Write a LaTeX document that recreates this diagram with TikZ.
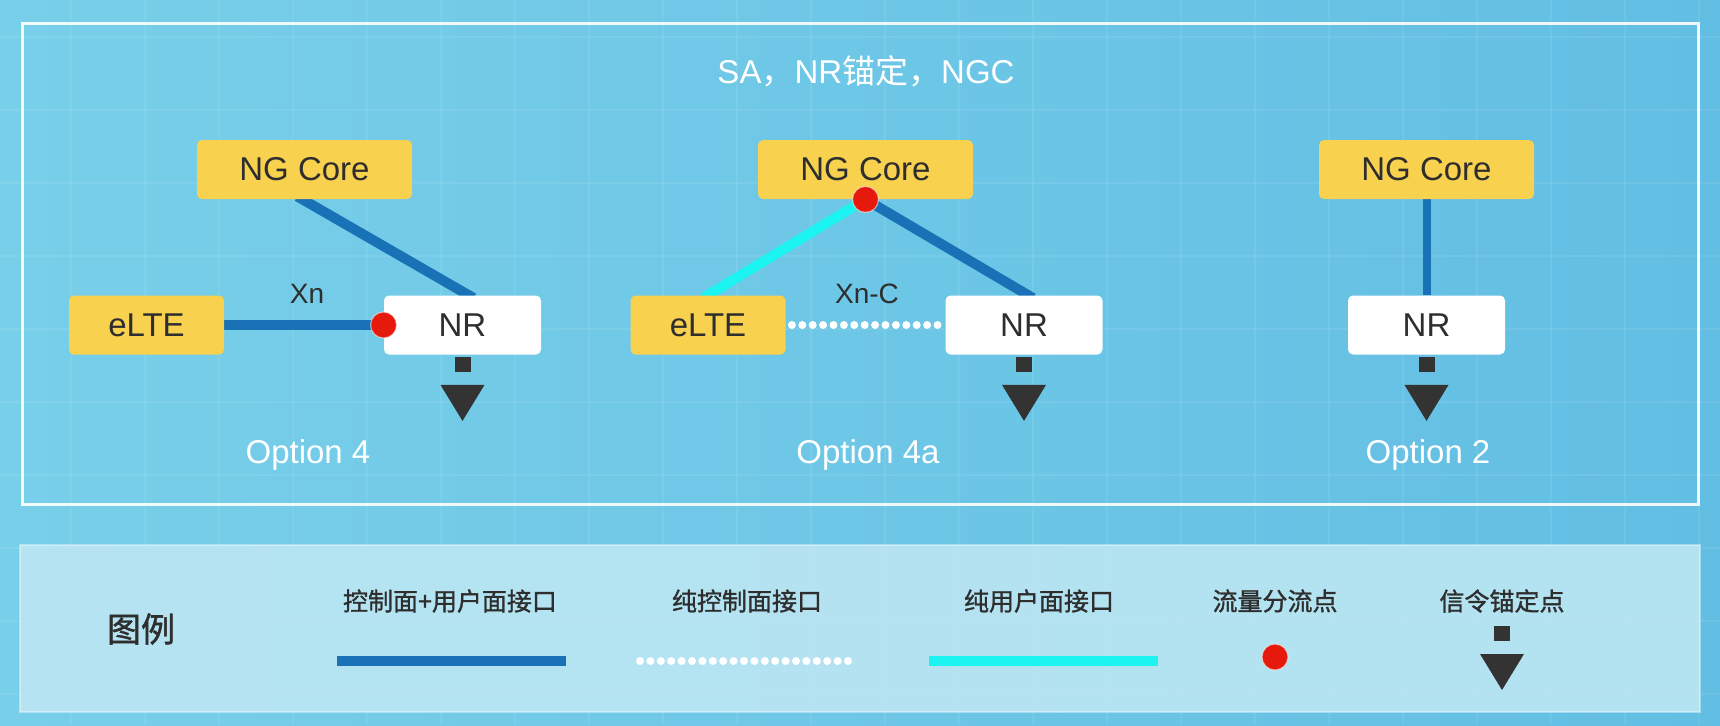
\documentclass[tikz,border=0pt]{standalone}
\usepackage{fontspec}
\setmainfont{Liberation Sans}
\newfontfamily\cjk{Noto Sans CJK SC}
\newfontfamily\cjkb[FakeBold=1.2]{Noto Sans CJK SC}
\usetikzlibrary{calc}
\definecolor{bgL}{HTML}{78CFE9}
\definecolor{bgR}{HTML}{62BEE3}
\definecolor{boxY}{HTML}{F8D14F}
\definecolor{lnB}{HTML}{1A72B6}
\definecolor{lnC}{HTML}{1CF4F2}
\definecolor{dotR}{HTML}{E5190C}
\definecolor{ancK}{HTML}{333333}
\definecolor{txtD}{HTML}{2E2E2E}
\definecolor{legBg}{HTML}{BCE6F3}
\pgfdeclarelayer{bg}
\pgfdeclarelayer{background}
\pgfsetlayers{bg,background,main}
\tikzset{
 ybox/.style={fill=boxY, rounded corners=2.5pt, minimum width=107.5pt, minimum height=29.5pt, text=txtD, font=\fontsize{16.5}{18}\selectfont, inner sep=0pt},
 eltebox/.style={ybox, minimum width=77.5pt},
 nrbox/.style={ybox, fill=white, minimum width=78.5pt},
 cup/.style={draw=lnB, line width=5pt},
 upl/.style={draw=lnC, line width=5pt},
 cpl/.style={draw=white, line width=4pt, line cap=round, dash pattern=on 0pt off 5.2pt},
 splitdot/.style={circle, fill=dotR, draw=white, draw opacity=0.5, line width=0.6pt, minimum size=13pt, inner sep=0pt},
 optlbl/.style={text=white, font=\fontsize{16.5}{18}\selectfont, anchor=base},
 ifacelbl/.style={text=txtD, font=\fontsize{14}{16}\selectfont},
 leglbl/.style={text=txtD, font=\cjkb\fontsize{12.5}{14}\selectfont},
}
\newcommand\sigmark[1]{%
 \fill[ancK] ($(#1)+(-8,2)$) rectangle ($(#1)+(8,17)$);
 \fill[ancK] ($(#1)+(-22,30)$) -- ($(#1)+(22,30)$) -- ($(#1)+(0,66)$) -- cycle;}
\begin{document}
\begin{tikzpicture}[x=0.5pt,y=-0.5pt]
\useasboundingbox (0,0) rectangle (1720,725);
\begin{pgfonlayer}{bg}
 \shade[left color=bgL, right color=bgR] (0,0) rectangle (1720,725);
 \foreach \gx in {71,145,...,1720} \draw[white, opacity=0.08, line width=1.2pt] (\gx,0) -- (\gx,725);
 \foreach \gy in {37,110,...,725} \draw[white, opacity=0.08, line width=1.2pt] (0,\gy) -- (1720,\gy);
 \draw[white, opacity=0.9, line width=1.5pt] (22,23) rectangle (1698,504);
 \fill[legBg, opacity=0.9] (20,545) rectangle (1700,712);
 \draw[white, opacity=0.4, line width=1pt] (20,545) rectangle (1700,712);
\end{pgfonlayer}

\node[text=white, anchor=base, font=\fontsize{16.5}{18}\selectfont] (title) at (866,83) {SA{\cjk ，}NR{\cjk 锚定，}NGC};

% Option 4
\node[ybox] (core1) at (304.5,169.5) {NG Core};
\node[eltebox] (elte1) at (146.5,325) {eLTE};
\node[nrbox] (nr1) at (462.5,325) {NR};
\begin{pgfonlayer}{background}
 \draw[cup, shorten <=-3pt, shorten >=-3pt] ($(core1.south)+(-2,0)$) -- ($(nr1.north)+(6,0)$);
 \draw[cup] (elte1.east) -- (nr1.west);
\end{pgfonlayer}
\node[splitdot] (sp1) at (nr1.west) {};
\node[ifacelbl] (xn) at (307,294) {Xn};
\sigmark{nr1.south}
\node[optlbl] (opt4) at (308,463) {Option 4};

% Option 4a
\node[ybox] (core2) at (865.5,169.5) {NG Core};
\node[eltebox] (elte2) at (708,325) {eLTE};
\node[nrbox] (nr2) at (1024,325) {NR};
\begin{pgfonlayer}{background}
 \draw[upl, shorten <=-3pt, shorten >=-3pt] (core2.south) -- (elte2.north);
 \draw[cup, shorten <=-3pt, shorten >=-3pt] (core2.south) -- ($(nr2.north)+(4,0)$);
 \draw[cpl, shorten <=3pt, shorten >=2pt] (elte2.east) -- (nr2.west);
\end{pgfonlayer}
\node[splitdot] (sp2) at (core2.south) {};
\node[ifacelbl] (xnc) at (867,294) {Xn-C};
\sigmark{nr2.south}
\node[optlbl] (opt4a) at (868,463) {Option 4a};

% Option 2
\node[ybox] (core3) at (1426.5,169.5) {NG Core};
\node[nrbox] (nr3) at (1426.5,325) {NR};
\begin{pgfonlayer}{background}
 \draw[draw=lnB, line width=4pt] (core3.south) -- (nr3.north);
\end{pgfonlayer}
\sigmark{nr3.south}
\node[optlbl] (opt2) at (1428,463) {Option 2};

% Legend
\node[text=txtD, font=\cjkb\fontsize{17}{19}\selectfont] (legtitle) at (141,629) {图例};
\node[leglbl] (lg1) at (450,601) {控制面+用户面接口};
\node[leglbl] (lg2) at (747,601) {纯控制面接口};
\node[leglbl] (lg3) at (1039,601) {纯用户面接口};
\node[leglbl] (lg4) at (1275,601) {流量分流点};
\node[leglbl] (lg5) at (1502,601) {信令锚定点};
\coordinate (l1a) at (337,661); \coordinate (l1b) at (566,661);
\coordinate (l2a) at (640,661); \coordinate (l2b) at (857,661);
\coordinate (l3a) at (929,661); \coordinate (l3b) at (1158,661);
\draw[cup] (l1a) -- (l1b);
\draw[cpl] (l2a) -- (l2b);
\draw[upl] (l3a) -- (l3b);
\node[splitdot] (legdot) at (1275,657) {};
\coordinate (legsig) at (1502,624);
\sigmark{legsig}
\end{tikzpicture}
\end{document}
